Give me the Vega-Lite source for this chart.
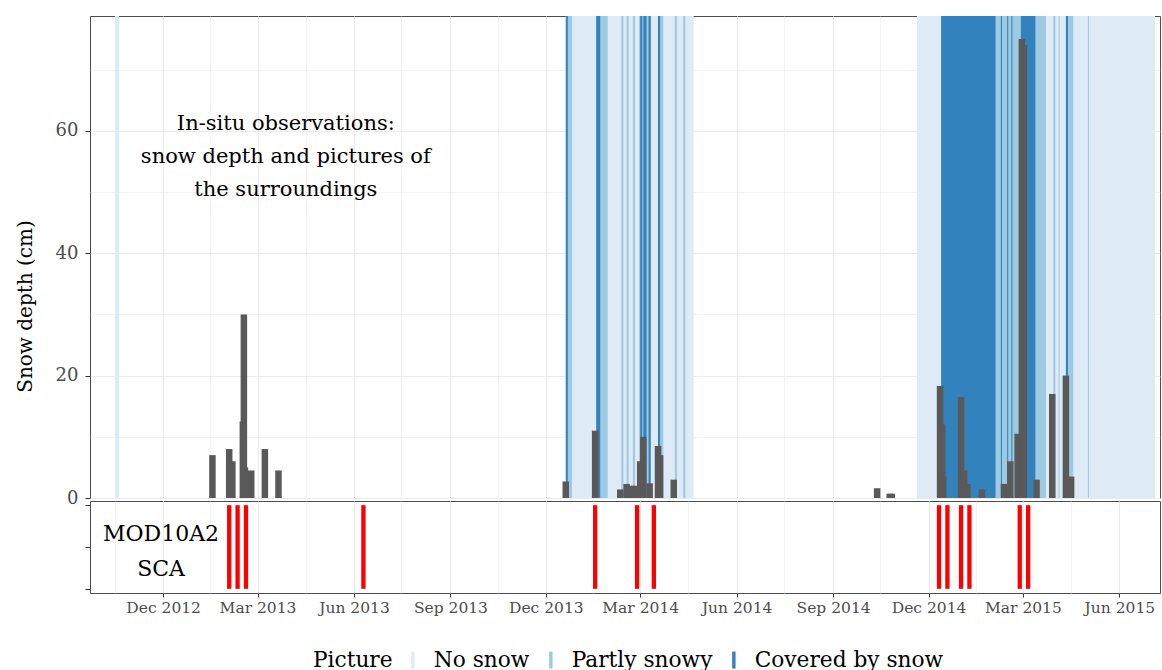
{
  "$schema": "https://vega.github.io/schema/vega-lite/v6.json",
  "padding": {"left": 14, "top": 15, "right": 2, "bottom": 0},
  "background": "white",
  "spacing": 3,
  "bounds": "flush",
  "config": {
    "view": {"stroke": "#4d4d4d", "strokeWidth": 1},
    "font": "DejaVu Serif",
    "axis": {"labelFont": "DejaVu Serif", "titleFont": "DejaVu Serif"}
  },
  "datasets": {
    "bands": [
      {"start": "2012-10-16", "end": "2012-10-20", "picture": "No snow"},
      {"start": "2013-12-20", "end": "2014-04-21", "picture": "No snow"},
      {"start": "2014-11-20", "end": "2015-07-05", "picture": "No snow"},
      {"start": "2013-12-22", "end": "2013-12-26", "picture": "Partly snowy"},
      {"start": "2014-01-22", "end": "2014-01-29", "picture": "Partly snowy"},
      {"start": "2014-02-11", "end": "2014-02-13", "picture": "Partly snowy"},
      {"start": "2014-02-16", "end": "2014-02-18", "picture": "Partly snowy"},
      {"start": "2014-02-22", "end": "2014-02-24", "picture": "Partly snowy"},
      {"start": "2014-02-28", "end": "2014-03-11", "picture": "Partly snowy"},
      {"start": "2014-03-20", "end": "2014-03-23", "picture": "Partly snowy"},
      {"start": "2014-04-03", "end": "2014-04-05", "picture": "Partly snowy"},
      {"start": "2014-04-11", "end": "2014-04-13", "picture": "Partly snowy"},
      {"start": "2015-02-03", "end": "2015-02-27", "picture": "Partly snowy"},
      {"start": "2015-03-13", "end": "2015-03-23", "picture": "Partly snowy"},
      {"start": "2015-03-30", "end": "2015-04-01", "picture": "Partly snowy"},
      {"start": "2015-04-04", "end": "2015-04-05", "picture": "Partly snowy"},
      {"start": "2015-04-13", "end": "2015-04-18", "picture": "Partly snowy"},
      {"start": "2015-05-02", "end": "2015-05-03", "picture": "Partly snowy"},
      {"start": "2013-12-20", "end": "2013-12-22", "picture": "Covered by snow"},
      {"start": "2014-01-18", "end": "2014-01-22", "picture": "Covered by snow"},
      {"start": "2014-03-01", "end": "2014-03-03", "picture": "Covered by snow"},
      {"start": "2014-03-04", "end": "2014-03-07", "picture": "Covered by snow"},
      {"start": "2014-03-09", "end": "2014-03-11", "picture": "Covered by snow"},
      {"start": "2014-03-18", "end": "2014-03-20", "picture": "Covered by snow"},
      {"start": "2014-12-13", "end": "2015-02-03", "picture": "Covered by snow"},
      {"start": "2015-02-08", "end": "2015-02-09", "picture": "Covered by snow"},
      {"start": "2015-02-14", "end": "2015-02-15", "picture": "Covered by snow"},
      {"start": "2015-02-18", "end": "2015-02-19", "picture": "Covered by snow"},
      {"start": "2015-02-27", "end": "2015-03-13", "picture": "Covered by snow"},
      {"start": "2015-04-11", "end": "2015-04-13", "picture": "Covered by snow"}
    ],
    "depth": [
      {"date": "2013-01-17", "depth_cm": 7},
      {"date": "2013-02-02", "depth_cm": 8},
      {"date": "2013-02-05", "depth_cm": 6},
      {"date": "2013-02-15", "depth_cm": 12.5},
      {"date": "2013-02-16", "depth_cm": 30},
      {"date": "2013-02-17", "depth_cm": 5},
      {"date": "2013-02-23", "depth_cm": 4.5},
      {"date": "2013-03-08", "depth_cm": 8},
      {"date": "2013-03-21", "depth_cm": 4.5},
      {"date": "2013-12-20", "depth_cm": 2.7},
      {"date": "2014-01-17", "depth_cm": 11},
      {"date": "2014-02-10", "depth_cm": 1.4},
      {"date": "2014-02-16", "depth_cm": 2.3},
      {"date": "2014-02-21", "depth_cm": 2},
      {"date": "2014-02-23", "depth_cm": 2},
      {"date": "2014-03-01", "depth_cm": 6},
      {"date": "2014-03-04", "depth_cm": 10},
      {"date": "2014-03-10", "depth_cm": 2.4},
      {"date": "2014-03-18", "depth_cm": 8.5},
      {"date": "2014-03-20", "depth_cm": 7},
      {"date": "2014-04-02", "depth_cm": 3},
      {"date": "2014-10-13", "depth_cm": 1.6},
      {"date": "2014-10-25", "depth_cm": 0.7},
      {"date": "2014-10-27", "depth_cm": 0.7},
      {"date": "2014-12-12", "depth_cm": 18.3},
      {"date": "2014-12-14", "depth_cm": 12},
      {"date": "2014-12-15", "depth_cm": 3.5},
      {"date": "2015-01-01", "depth_cm": 16.5},
      {"date": "2015-01-04", "depth_cm": 4.5},
      {"date": "2015-01-07", "depth_cm": 2.3},
      {"date": "2015-01-21", "depth_cm": 1.4},
      {"date": "2015-02-11", "depth_cm": 2.3},
      {"date": "2015-02-17", "depth_cm": 6},
      {"date": "2015-02-24", "depth_cm": 10.5},
      {"date": "2015-02-28", "depth_cm": 75},
      {"date": "2015-03-02", "depth_cm": 74},
      {"date": "2015-03-14", "depth_cm": 3},
      {"date": "2015-03-29", "depth_cm": 17},
      {"date": "2015-04-11", "depth_cm": 20},
      {"date": "2015-04-16", "depth_cm": 3.5}
    ],
    "modis": [
      {"date": "2013-02-02"},
      {"date": "2013-02-10"},
      {"date": "2013-02-18"},
      {"date": "2013-06-10"},
      {"date": "2014-01-17"},
      {"date": "2014-02-26"},
      {"date": "2014-03-14"},
      {"date": "2014-12-11"},
      {"date": "2014-12-19"},
      {"date": "2015-01-01"},
      {"date": "2015-01-09"},
      {"date": "2015-02-26"},
      {"date": "2015-03-06"}
    ]
  },
  "resolve": {"scale": {"color": "shared"}, "legend": {"color": "shared"}},
  "vconcat": [
    {
      "width": 1070,
      "height": 482,
      "layer": [
        {
          "data": {"name": "bands"},
          "mark": {"type": "rect", "clip": true},
          "encoding": {
            "x": {
              "field": "start",
              "type": "temporal",
              "scale": {"type": "utc", "domain": [{"year": 2012, "month": 9, "date": 27, "utc": true}, {"year": 2015, "month": 7, "date": 5, "utc": true}]},
              "axis": {
                "title": null,
                "labels": false,
                "ticks": false,
                "domain": false,
                "gridColor": "#ebebeb",
                "gridWidth": {"condition": {"test": "utcdate(datum.value) == 1", "value": 1.1}, "value": 0.6},
                "values": [
                  {"year": 2012, "month": 10, "date": 16, "utc": true},
                  {"year": 2012, "month": 12, "date": 1, "utc": true},
                  {"year": 2013, "month": 1, "date": 15, "utc": true},
                  {"year": 2013, "month": 3, "date": 1, "utc": true},
                  {"year": 2013, "month": 4, "date": 16, "utc": true},
                  {"year": 2013, "month": 6, "date": 1, "utc": true},
                  {"year": 2013, "month": 7, "date": 16, "utc": true},
                  {"year": 2013, "month": 9, "date": 1, "utc": true},
                  {"year": 2013, "month": 10, "date": 16, "utc": true},
                  {"year": 2013, "month": 12, "date": 1, "utc": true},
                  {"year": 2014, "month": 1, "date": 15, "utc": true},
                  {"year": 2014, "month": 3, "date": 1, "utc": true},
                  {"year": 2014, "month": 4, "date": 16, "utc": true},
                  {"year": 2014, "month": 6, "date": 1, "utc": true},
                  {"year": 2014, "month": 7, "date": 16, "utc": true},
                  {"year": 2014, "month": 9, "date": 1, "utc": true},
                  {"year": 2014, "month": 10, "date": 16, "utc": true},
                  {"year": 2014, "month": 12, "date": 1, "utc": true},
                  {"year": 2015, "month": 1, "date": 15, "utc": true},
                  {"year": 2015, "month": 3, "date": 1, "utc": true},
                  {"year": 2015, "month": 4, "date": 16, "utc": true},
                  {"year": 2015, "month": 6, "date": 1, "utc": true}
                ]
              }
            },
            "x2": {"field": "end"},
            "color": {
              "field": "picture",
              "type": "nominal",
              "scale": {"domain": ["No snow", "Partly snowy", "Covered by snow"], "range": ["#deebf7", "#9ecae1", "#3182bd"]},
              "legend": {
                "title": "Picture",
                "orient": "none",
                "legendX": 223,
                "legendY": 633,
                "direction": "horizontal",
                "titleOrient": "left",
                "titleFontSize": 21.7,
                "titleFontWeight": "normal",
                "titleColor": "black",
                "titleFont": "DejaVu Serif",
                "titlePadding": 9,
                "labelFontSize": 21.7,
                "labelFont": "DejaVu Serif",
                "labelColor": "black",
                "labelLimit": 400,
                "symbolType": "M-0.2,-1H0.2V1H-0.2Z",
                "symbolSize": 290,
                "symbolStrokeWidth": 0,
                "labelOffset": 10,
                "columnPadding": 10
              }
            }
          }
        },
        {
          "data": {"name": "depth"},
          "mark": {"type": "bar", "size": 6.5, "color": "#595959", "clip": true},
          "encoding": {
            "x": {"field": "date", "type": "temporal"},
            "y": {
              "field": "depth_cm",
              "type": "quantitative",
              "scale": {"domain": [0, 78.75], "nice": false, "zero": false},
              "axis": {
                "title": "Snow depth (cm)",
                "values": [0, 10, 20, 30, 40, 50, 60, 70],
                "labelExpr": "datum.value % 20 == 0 ? datum.label : ''",
                "tickOpacity": {"condition": {"test": "datum.value % 20 == 0", "value": 1}, "value": 0},
                "gridColor": "#ebebeb",
                "gridWidth": {"condition": {"test": "datum.value % 20 == 0", "value": 1.1}, "value": 0.6},
                "domain": false,
                "tickColor": "#333333",
                "tickSize": 5,
                "labelFontSize": 18,
                "labelColor": "#4d4d4d",
                "labelPadding": 7,
                "labelOverlap": false,
                "minExtent": 35,
                "maxExtent": 35,
                "titleFontSize": 20,
                "titleFontWeight": "normal",
                "titleColor": "black",
                "titlePadding": 20,
                "titleY": 290
              }
            }
          }
        },
        {
          "data": {"values": [{"date": "2013-03-28", "depth_cm": 61.1, "label": "In-situ observations:\nsnow depth and pictures of\nthe surroundings"}]},
          "mark": {"type": "text", "fontSize": 21, "lineHeight": 33, "lineBreak": "\n", "align": "center", "baseline": "middle", "font": "DejaVu Serif", "color": "black"},
          "encoding": {
            "x": {"field": "date", "type": "temporal"},
            "y": {"field": "depth_cm", "type": "quantitative"},
            "text": {"field": "label"}
          }
        }
      ]
    },
    {
      "width": 1070,
      "height": 92,
      "layer": [
        {
          "data": {"name": "modis"},
          "mark": {"type": "bar", "size": 4.3, "color": "#ff0000"},
          "encoding": {
            "x": {
              "field": "date",
              "type": "temporal",
              "scale": {"type": "utc", "domain": [{"year": 2012, "month": 9, "date": 27, "utc": true}, {"year": 2015, "month": 7, "date": 5, "utc": true}]},
              "axis": {
                "title": null,
                "domain": false,
                "labelExpr": "utcdate(datum.value) == 1 ? utcFormat(datum.value, '%b %Y') : ''",
                "tickOpacity": {"condition": {"test": "utcdate(datum.value) == 1", "value": 1}, "value": 0},
                "gridColor": "#ebebeb",
                "gridWidth": {"condition": {"test": "utcdate(datum.value) == 1", "value": 1.1}, "value": 0.6},
                "tickColor": "#333333",
                "tickSize": 4,
                "labelFontSize": 15.5,
                "labelColor": "#4d4d4d",
                "labelPadding": 3,
                "labelOverlap": false,
                "labelFlush": false,
                "values": [
                  {"year": 2012, "month": 10, "date": 16, "utc": true},
                  {"year": 2012, "month": 12, "date": 1, "utc": true},
                  {"year": 2013, "month": 1, "date": 15, "utc": true},
                  {"year": 2013, "month": 3, "date": 1, "utc": true},
                  {"year": 2013, "month": 4, "date": 16, "utc": true},
                  {"year": 2013, "month": 6, "date": 1, "utc": true},
                  {"year": 2013, "month": 7, "date": 16, "utc": true},
                  {"year": 2013, "month": 9, "date": 1, "utc": true},
                  {"year": 2013, "month": 10, "date": 16, "utc": true},
                  {"year": 2013, "month": 12, "date": 1, "utc": true},
                  {"year": 2014, "month": 1, "date": 15, "utc": true},
                  {"year": 2014, "month": 3, "date": 1, "utc": true},
                  {"year": 2014, "month": 4, "date": 16, "utc": true},
                  {"year": 2014, "month": 6, "date": 1, "utc": true},
                  {"year": 2014, "month": 7, "date": 16, "utc": true},
                  {"year": 2014, "month": 9, "date": 1, "utc": true},
                  {"year": 2014, "month": 10, "date": 16, "utc": true},
                  {"year": 2014, "month": 12, "date": 1, "utc": true},
                  {"year": 2015, "month": 1, "date": 15, "utc": true},
                  {"year": 2015, "month": 3, "date": 1, "utc": true},
                  {"year": 2015, "month": 4, "date": 16, "utc": true},
                  {"year": 2015, "month": 6, "date": 1, "utc": true}
                ]
              }
            },
            "y": {
              "datum": 0,
              "type": "quantitative",
              "scale": {"domain": [-0.05, 1.05], "nice": false, "zero": false},
              "axis": {
                "title": null,
                "values": [0, 0.125, 0.25, 0.375, 0.5, 0.625, 0.75, 0.875, 1],
                "labels": false,
                "tickOpacity": {"condition": {"test": "(datum.value * 4) % 1 == 0", "value": 1}, "value": 0},
                "gridColor": "#e6e6e6",
                "gridWidth": {"condition": {"test": "(datum.value * 4) % 1 == 0", "value": 1.1}, "value": 0.7},
                "domain": false,
                "tickColor": "#333333",
                "tickSize": 5,
                "minExtent": 35,
                "maxExtent": 35
              }
            },
            "y2": {"datum": 1}
          }
        },
        {
          "data": {"values": [{"date": "2012-11-29", "pos": 0.655, "label": "MOD10A2\nSCA"}]},
          "mark": {"type": "text", "fontSize": 22, "lineHeight": 35, "lineBreak": "\n", "align": "center", "baseline": "middle", "font": "DejaVu Serif", "color": "black"},
          "encoding": {
            "x": {"field": "date", "type": "temporal"},
            "y": {"field": "pos", "type": "quantitative"},
            "text": {"field": "label"}
          }
        }
      ]
    }
  ]
}
